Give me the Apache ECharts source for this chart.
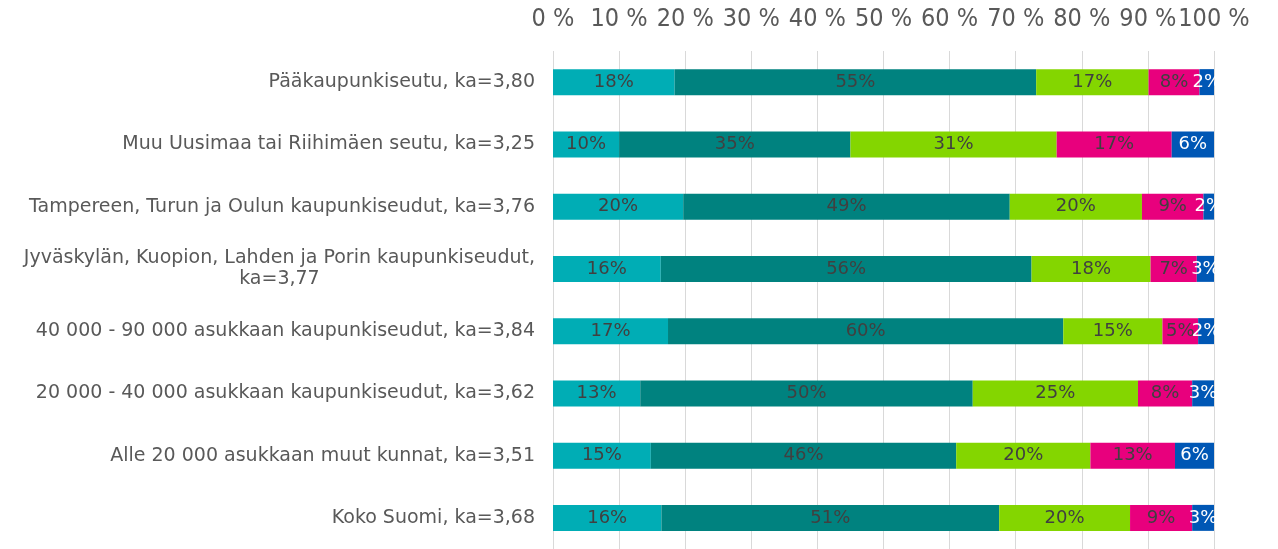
<!DOCTYPE html>
<html lang="fi">
<head>
    <meta charset="UTF-8">
    <title>Alueet</title>
    <script src="https://cdn.jsdelivr.net/npm/echarts@6/dist/echarts.min.js"></script>
    <style>
        *{
            margin: 0;
            padding: 0;
        }
        .container{
            width: 1278px;
            height: 549px;
            background: #fff;
        }
    </style>
</head>
<body>
<div class="container"></div>
<script>
    // alueet ylhäältä alas
    let categories=[
        'Pääkaupunkiseutu, ka=3,80',
        'Muu Uusimaa tai Riihimäen seutu, ka=3,25',
        'Tampereen, Turun ja Oulun kaupunkiseudut, ka=3,76',
        'Jyväskylän, Kuopion, Lahden ja Porin kaupunkiseudut,\nka=3,77',
        '40 000 - 90 000 asukkaan kaupunkiseudut, ka=3,84',
        '20 000 - 40 000 asukkaan kaupunkiseudut, ka=3,62',
        'Alle 20 000 asukkaan muut kunnat, ka=3,51',
        'Koko Suomi, ka=3,68'
    ]
    let seriesNames=['5','4','3','2','1']
    let v5=[18.4,10.0,19.7,16.3,17.4,13.2,14.8,16.4]
    let v4=[54.7,35.0,49.4,56.1,59.8,50.3,46.2,51.1]
    let v3=[17.0,31.2,20.0,18.0,15.0,25.0,20.3,19.8]
    let v2=[7.7,17.4,9.3,7.0,5.4,8.2,12.8,9.4]
    let v1=[2.2,6.4,1.6,2.6,2.4,3.3,5.9,3.3]
    let xTicks=[0,10,20,30,40,50,60,70,80,90,100]

    let values=[v5,v4,v3,v2,v1]
    let colors=['#00adb5','#00827f','#84d600','#e8007d','#0057b5']
    let labelColors=['#404040','#404040','#404040','#404040','#ffffff']

    let container=document.querySelector('.container')
    let echart=echarts.init(container)

    let series=values.map((vals,i)=>({
        name:seriesNames[i],
        type:'bar',
        stack:'all',
        barWidth:26,
        data:vals.slice().reverse(),
        itemStyle:{color:colors[i]},
        label:{
            show:true,
            position:'inside',
            color:labelColors[i],
            fontFamily:'DejaVu Sans',
            fontSize:18,
            formatter:p=>Math.round(p.value)+'%'
        }
    }))

    let option={
        animation:false,
        grid:{left:553,right:64,top:51,bottom:-5,containLabel:false},
        xAxis:{
            type:'value',
            position:'top',
            min:0,
            max:100,
            interval:10,
            axisLine:{show:false},
            axisTick:{show:false},
            splitLine:{lineStyle:{color:'#d9d9d9',width:1}},
            axisLabel:{
                margin:19,
                color:'#595959',
                fontFamily:'DejaVu Sans Condensed',
                fontSize:25,
                showMinLabel:true,
                showMaxLabel:true,
                hideOverlap:false,
                formatter:v=>xTicks.includes(v)? v+' %' : ''
            }
        },
        yAxis:{
            type:'category',
            data:categories.slice().reverse(),
            axisLine:{show:false},
            axisTick:{show:false},
            axisLabel:{
                margin:18,
                color:'#595959',
                fontFamily:'DejaVu Sans',
                fontSize:19,
                lineHeight:21,
                formatter:v=>v.split('\n').map(s=>'{c|'+s+'}').join('\n'),
                rich:{c:{align:'center',color:'#595959',fontFamily:'DejaVu Sans',fontSize:19,lineHeight:21}}
            }
        },
        series
    }

    echart.setOption(option)
</script>
</body>
</html>
